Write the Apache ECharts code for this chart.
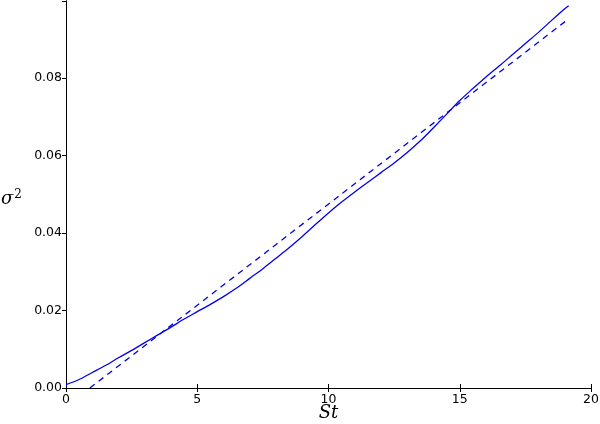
<!DOCTYPE html>
<html>
<head>
<meta charset="utf-8">
<script src="https://cdn.jsdelivr.net/npm/echarts@6/dist/echarts.min.js"></script>
<style>html,body{margin:0;padding:0;background:#fff}#c{width:600px;height:424px}</style>
</head>
<body>
<div id="c"></div>
<script>
// Data
var solidX = [0, 0.5, 1, 1.5, 2, 2.5, 3, 3.5, 4, 4.5, 5, 5.5, 6, 6.5, 7, 7.5, 8, 8.5, 9, 9.5, 10, 10.5, 11, 11.5, 12, 12.5, 13, 13.5, 14, 14.5, 15, 15.5, 16, 16.5, 17, 17.5, 18, 18.5, 19, 19.15];
var solidY = [0.0009, 0.0022, 0.0040, 0.0058, 0.0078, 0.0097, 0.0117, 0.0137, 0.0157, 0.0178, 0.0197, 0.0216, 0.0236, 0.0258, 0.0283, 0.0308, 0.0335, 0.0362, 0.0391, 0.0422, 0.0452, 0.0480, 0.0506, 0.0531, 0.0556, 0.0581, 0.0608, 0.0638, 0.0672, 0.0707, 0.0742, 0.0773, 0.0803, 0.0831, 0.0860, 0.0889, 0.0918, 0.0949, 0.0979, 0.0987];
var dashX = [0.91, 19.15];
var dashY = [0.0, 0.0953];
var xTicks = [0, 5, 10, 15, 20];
var yTicks = [0.00, 0.02, 0.04, 0.06, 0.08];

function pairs(xs, ys) { return xs.map(function (x, i) { return [x, ys[i]]; }); }

var chart = echarts.init(document.getElementById('c'), null, { renderer: 'canvas' });
var axisLine = { show: true, lineStyle: { color: '#000', width: 1 } };
var labelFont = { fontFamily: 'DejaVu Sans', fontSize: 12.5, color: '#000' };
chart.setOption({
  animation: false,
  backgroundColor: '#fff',
  grid: { left: 66, right: 9, top: 1, bottom: 36, containLabel: false, outerBoundsMode: 'none' },
  xAxis: [{
    type: 'value', min: xTicks[0], max: xTicks[xTicks.length - 1], interval: 5,
    position: 'bottom',
    axisLine: axisLine,
    axisTick: { show: true, inside: true, length: 4, lineStyle: { color: '#000' } },
    axisLabel: Object.assign({ margin: 5 }, labelFont),
    splitLine: { show: false },
    name: 'St', nameLocation: 'middle', nameGap: 16, nameMoveOverlap: false,
    nameTextStyle: { fontFamily: 'DejaVu Serif', fontStyle: 'italic', fontSize: 18, color: '#000' }
  }, {
    type: 'value', min: xTicks[0], max: xTicks[xTicks.length - 1], interval: 5,
    position: 'top',
    axisLine: axisLine,
    axisTick: { show: true, inside: true, length: 4, lineStyle: { color: '#000' } },
    axisLabel: { show: false },
    splitLine: { show: false }
  }],
  yAxis: [{
    type: 'value', min: yTicks[0], max: 0.0999, interval: 0.02,
    position: 'left',
    axisLine: axisLine,
    axisTick: { show: true, inside: false, length: 3, lineStyle: { color: '#000' } },
    axisLabel: Object.assign({ margin: 4, showMaxLabel: false, formatter: function (v) { return v.toFixed(2); } }, labelFont),
    splitLine: { show: false },
    name: '{s|σ}{p|2}', nameLocation: 'middle', nameRotate: 0, nameGap: 44, nameMoveOverlap: false,
    nameTextStyle: {
      padding: [10, 0, 0, 0],
      rich: {
        s: { fontFamily: 'DejaVu Serif', fontStyle: 'italic', fontSize: 18, color: '#000' },
        p: { fontFamily: 'DejaVu Serif', fontSize: 12, color: '#000', verticalAlign: 'top', padding: [0, 0, 10, 1] }
      }
    }
  }, {
    type: 'value', min: yTicks[0], max: 0.0999, interval: 0.02,
    position: 'right',
    axisLine: axisLine,
    axisTick: { show: true, inside: true, length: 4, lineStyle: { color: '#000' } },
    axisLabel: { show: false },
    splitLine: { show: false }
  }],
  series: [{
    type: 'line', xAxisIndex: 0, yAxisIndex: 0,
    data: pairs(solidX, solidY), showSymbol: false, smooth: 0.3,
    lineStyle: { color: '#0000ee', width: 1.3 }
  }, {
    type: 'line', xAxisIndex: 0, yAxisIndex: 0,
    data: pairs(dashX, dashY), showSymbol: false,
    lineStyle: { color: '#0000ee', width: 1.3, type: [6, 5] }
  }]
});
</script>
</body>
</html>
